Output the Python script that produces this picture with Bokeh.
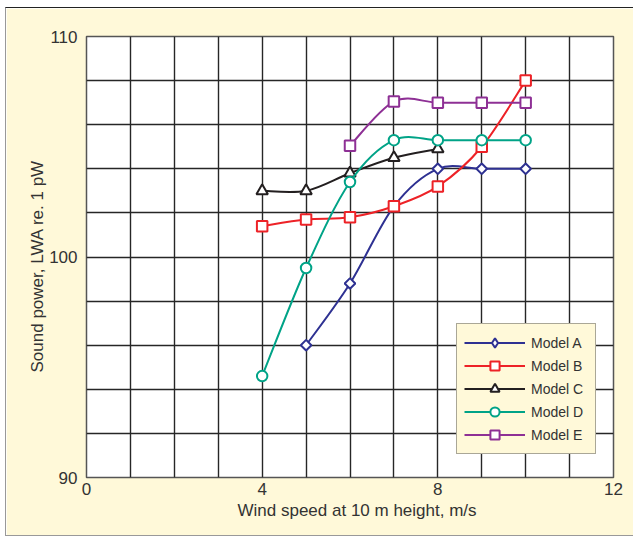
import numpy as np
from bokeh.plotting import figure
from bokeh.models import ColumnDataSource, FixedTicker, Legend, LegendItem, Range1d, Title
from bokeh.embed import file_html
from bokeh.resources import INLINE

# ---- data ----
x_ticks = [0, 4, 8, 12]
y_ticks = [90, 100, 110]
x_grid = [0, 1, 2, 3, 4, 5, 6, 7, 8, 9, 10, 11, 12]
y_grid = [90, 92, 94, 96, 98, 100, 102, 104, 106, 108, 110]

names = ["Model A", "Model B", "Model C", "Model D", "Model E"]
model_a_x = [5, 6, 7, 8, 9, 10]
model_a_y = [96.0, 98.8, 102.3, 104.0, 104.0, 104.0]
model_b_x = [4, 5, 6, 7, 8, 9, 10]
model_b_y = [101.4, 101.7, 101.8, 102.3, 103.2, 105.0, 108.0]
model_c_x = [4, 5, 6, 7, 8]
model_c_y = [103.0, 103.0, 103.8, 104.5, 104.9]
model_d_x = [4, 5, 6, 7, 8, 9, 10]
model_d_y = [94.6, 99.5, 103.4, 105.3, 105.3, 105.3, 105.3]
model_e_x = [6, 7, 8, 9, 10]
model_e_y = [105.05, 107.05, 107.0, 107.0, 107.0]

x_title = "Wind speed at 10 m height, m/s"
y_title = "Sound power, LWA re. 1 pW"

colors = ["#2e3192", "#ed2227", "#231f20", "#00a387", "#8e3095"]
CREAM = "#fff9d9"
TXT = "#333333"
FONT = "Liberation Sans"


def smooth_cols(xs, ys):
    xs = np.asarray(xs, float)
    ys = np.asarray(ys, float)
    n = len(xs)
    px = np.concatenate([[xs[0]], xs, [xs[-1]]])
    py = np.concatenate([[ys[0]], ys, [ys[-1]]])
    return dict(
        x0=xs[:-1], y0=ys[:-1], x1=xs[1:], y1=ys[1:],
        cx0=xs[:-1] + (px[2:n + 1] - px[0:n - 1]) / 6.0,
        cy0=ys[:-1] + (py[2:n + 1] - py[0:n - 1]) / 6.0,
        cx1=xs[1:] - (px[3:n + 2] - px[1:n]) / 6.0,
        cy1=ys[1:] - (py[3:n + 2] - py[1:n]) / 6.0,
    )


p = figure(width=628, height=529, x_range=Range1d(0, 12), y_range=Range1d(90, 110),
           output_backend="svg", toolbar_location=None,
           min_border_left=80, min_border_right=21, min_border_top=28, min_border_bottom=60,
           background_fill_color="white", border_fill_color=CREAM,
           styles={"margin-left": "5px", "margin-top": "7px",
                   "border-left": "1px solid #999999",
                   "border-top": "1px solid #222222",
                   "border-bottom": "1px solid #999999"})

p.outline_line_color = "#555555"
p.outline_line_width = 1.5

p.xaxis.ticker = FixedTicker(ticks=x_ticks)
p.yaxis.ticker = FixedTicker(ticks=y_ticks)
p.xgrid.ticker = FixedTicker(ticks=x_grid)
p.ygrid.ticker = FixedTicker(ticks=y_grid)
for g in (p.xgrid, p.ygrid):
    g.grid_line_color = "#262626"
    g.grid_line_width = 1.4

for ax in (p.xaxis, p.yaxis):
    ax.axis_line_color = None
    ax.major_tick_line_color = None
    ax.minor_tick_line_color = None
    ax.major_tick_out = 0
    ax.major_tick_in = 0
    ax.major_label_text_font = FONT
    ax.major_label_text_font_size = "17px"
    ax.major_label_text_color = TXT

p.xaxis.major_label_standoff = 5
p.yaxis.major_label_standoff = 9

# axis titles as side titles (allow an offset along the axis)
p.add_layout(Title(text=x_title, align="left", offset=151, standoff=3,
                   text_font=FONT, text_font_size="17px", text_font_style="normal",
                   text_color=TXT), "below")
p.add_layout(Title(text=y_title, align="left", offset=105, standoff=0,
                   text_font=FONT, text_font_size="17px", text_font_style="normal",
                   text_color=TXT), "left")

series = [
    (model_a_x, model_a_y, "square", 7.5, np.pi / 4, "diamond"),
    (model_b_x, model_b_y, "square", 10.5, 0.0, "square"),
    (model_c_x, model_c_y, "triangle", 11.5, 0.0, "triangle"),
    (model_d_x, model_d_y, "circle", 10.5, 0.0, "circle"),
    (model_e_x, model_e_y, "square", 10.5, 0.0, "square"),
]

items = []
for (xs, ys, marker, size, ang, leg_marker), color, name in zip(series, colors, names):
    src = ColumnDataSource(smooth_cols(xs, ys))
    curve = p.bezier(x0="x0", y0="y0", x1="x1", y1="y1", cx0="cx0", cy0="cy0",
                     cx1="cx1", cy1="cy1", source=src, line_color=color, line_width=2)
    p.scatter(xs, ys, marker=marker, size=size, angle=ang, fill_color="white",
              line_color=color, line_width=2)
    leg = p.scatter(xs, ys, marker=leg_marker, size=10, fill_color="white",
                    line_color=color, line_width=2, visible=False)
    items.append(LegendItem(label=name, renderers=[curve, leg]))

legend = Legend(items=items, location=(370, 23), orientation="vertical",
                background_fill_color=CREAM, background_fill_alpha=1.0,
                border_line_color="#555555", border_line_width=1.5,
                label_text_font=FONT, label_text_font_size="14px", label_text_color=TXT,
                glyph_width=61, glyph_height=23, spacing=0, padding=7, margin=0,
                label_standoff=6, label_width=57)
p.add_layout(legend)

open("out.html", "w").write(file_html(p, INLINE))
